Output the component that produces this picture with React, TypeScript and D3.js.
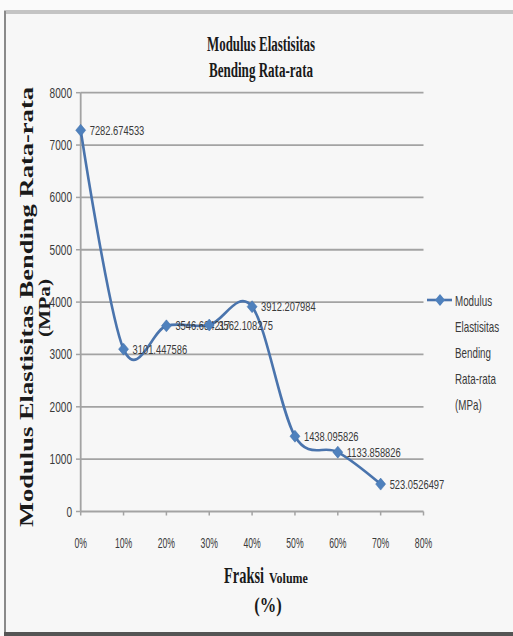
import React from "react";
import * as d3 from "d3";

const xCats = [0, 10, 20, 30, 40, 50, 60, 70];
const values = [7282.674533, 3101.447586, 3546.684217, 3562.108275, 3912.207984, 1438.095826, 1133.858826, 523.0526497];
const yTicks = [0, 1000, 2000, 3000, 4000, 5000, 6000, 7000, 8000];
const xTicks = [0, 10, 20, 30, 40, 50, 60, 70, 80];
const titleLines = ["Modulus Elastisitas", "Bending Rata-rata"];
const legendLines = ["Modulus", "Elastisitas", "Bending", "Rata-rata", "(MPa)"];

const W = 513, H = 636;
const x = d3.scaleLinear().domain([0, 80]).range([80.7, 423.5]);
const y = d3.scaleLinear().domain([0, 8000]).range([511.5, 92.7]);

const SANS = "'Liberation Sans', Arial, sans-serif";
const SERIF = "'Liberation Serif', 'Times New Roman', serif";

function T({ x, y, sx = 1, size, anchor = "start", family = SANS, weight = "normal", fill = "#3a3a3a", children }: any) {
  return (
    <text transform={`translate(${x},${y}) scale(${sx},1)`} fontSize={size} fontFamily={family} fontWeight={weight} textAnchor={anchor} fill={fill}>
      {children}
    </text>
  );
}

function diamond(cx: number, cy: number, w = 5, h = 6) {
  return `M${cx},${cy - h}L${cx + w},${cy}L${cx},${cy + h}L${cx - w},${cy}Z`;
}

export default function App() {
  const pts: [number, number][] = xCats.map((c, i) => [x(c), y(values[i])]);
  const line = d3.line().curve(d3.curveCardinal.tension(0))(pts) || "";
  return (
    <svg width={W} height={H} style={{ position: "absolute", left: 0, top: 0, background: "#fafafa" }}>
      <rect x={5} y={12} width={W} height={621} fill="#f7f7f7" />
      <line x1={4} x2={W} y1={12} y2={12} stroke="#c4c4c4" strokeWidth={4} />
      <line x1={5} x2={5} y1={11} y2={634} stroke="#8a8a8a" strokeWidth={2} />
      <line x1={4} x2={W} y1={634} y2={634} stroke="#555" strokeWidth={4} />

      {titleLines.map((t, i) => (
        <text key={t} x={261} y={51 + i * 26} fontSize={20} fontFamily={SERIF} fontWeight="bold" textAnchor="middle" fill="#1a1a1a" textLength={i === 0 ? 108 : 104} lengthAdjust="spacingAndGlyphs">{t}</text>
      ))}

      {yTicks.map((t) => (
        <g key={t}>
          <line x1={80.7} x2={423.5} y1={y(t)} y2={y(t)} stroke="#a3a3a3" strokeWidth={1.8} />
          <line x1={76} x2={80.7} y1={y(t)} y2={y(t)} stroke="#a3a3a3" strokeWidth={1.5} />
          <T x={72} y={y(t) + 5} sx={0.72} size={14} anchor="end">{String(t)}</T>
        </g>
      ))}
      <line x1={80.7} x2={80.7} y1={y(8000)} y2={y(0)} stroke="#a3a3a3" strokeWidth={1.8} />
      {xTicks.map((t) => (
        <g key={t}>
          <line x1={x(t)} x2={x(t)} y1={y(0)} y2={y(0) + 4} stroke="#a3a3a3" strokeWidth={1.5} />
          <T x={x(t)} y={548} sx={0.62} size={14} anchor="middle">{t + "%"}</T>
        </g>
      ))}

      <path d={line} fill="none" stroke="#4a74ad" strokeWidth={2.6} />
      {pts.map(([px, py], i) => (
        <g key={i}>
          <path d={diamond(px, py)} fill="#4f81bd" stroke="#3f6fa8" strokeWidth={0.5} />
          <T x={px + 9} y={py + 4.5} sx={0.72} size={13}>{String(values[i])}</T>
        </g>
      ))}

      <line x1={427} x2={452} y1={300} y2={300} stroke="#4a74ad" strokeWidth={2.6} />
      <path d={diamond(440, 300)} fill="#4f81bd" />
      {legendLines.map((t, i) => (
        <T key={t} x={455} y={306 + i * 26} sx={0.7} size={14}>{t}</T>
      ))}

      <text transform="translate(33,307) rotate(-90)" fontSize={18} fontFamily={SERIF} fontWeight="bold" textAnchor="middle" fill="#1a1a1a" textLength={440} lengthAdjust="spacingAndGlyphs">Modulus Elastisitas Bending Rata-rata</text>
      <text transform="translate(50,308) rotate(-90)" fontSize={17} fontFamily={SERIF} fontWeight="bold" textAnchor="middle" fill="#1a1a1a" textLength={58} lengthAdjust="spacingAndGlyphs">(MPa)</text>

      <T x={224} y={583} sx={0.6} size={24} family={SERIF} weight="bold" fill="#1a1a1a">Fraksi</T>
      <T x={269} y={583} sx={0.8} size={15} family={SERIF} weight="bold" fill="#1a1a1a">Volume</T>
      <T x={268} y={612} sx={0.75} size={22} family={SERIF} weight="bold" anchor="middle" fill="#1a1a1a">(%)</T>
    </svg>
  );
}
